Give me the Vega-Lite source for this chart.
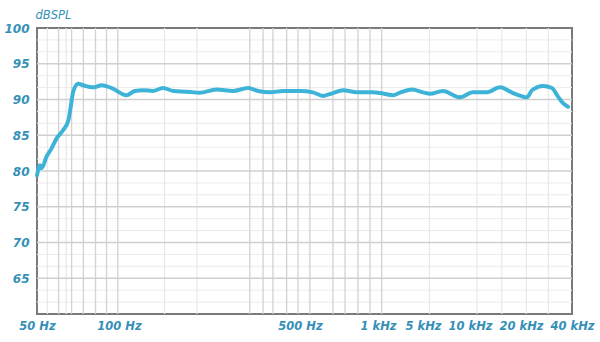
{
  "$schema": "https://vega.github.io/schema/vega-lite/v6.json",
  "width": 535,
  "height": 286,
  "autosize": {"type": "none"},
  "padding": {"left": 37, "top": 28, "right": 28, "bottom": 28},
  "background": "#ffffff",
  "config": {
    "view": {"stroke": "#7a7a7a", "strokeWidth": 2},
    "axis": {"labelFont": "DejaVu Sans", "labelFontStyle": "italic", "labelFontWeight": "bold", "labelColor": "#3590b8", "titleFont": "DejaVu Sans", "titleFontStyle": "italic", "titleColor": "#3590b8"}
  },
  "layer": [
    {
      "data": {"values": [
        {"db": 61.67}, {"db": 63.33}, {"db": 66.67}, {"db": 68.33}, {"db": 71.67}, {"db": 73.33},
        {"db": 76.67}, {"db": 78.33}, {"db": 81.67}, {"db": 83.33}, {"db": 86.67}, {"db": 88.33},
        {"db": 91.67}, {"db": 93.33}, {"db": 96.67}, {"db": 98.33}
      ]},
      "mark": {"type": "rule", "color": "#ececec", "strokeWidth": 1},
      "encoding": {"y": {"field": "db", "type": "quantitative"}}
    },
    {
      "data": {"values": [
        {"f": 54.6}, {"f": 64}, {"f": 150}, {"f": 200}, {"f": 5500}, {"f": 11000}, {"f": 15400}, {"f": 21500}, {"f": 29000}
      ]},
      "mark": {"type": "rule", "color": "#e8e8e8", "strokeWidth": 1.2},
      "encoding": {"x": {"field": "f", "type": "quantitative"}}
    },
    {
      "data": {"values": [
        {"f": 60}, {"f": 67}, {"f": 74}, {"f": 82}, {"f": 90}, {"f": 99}, {"f": 320}, {"f": 360}, {"f": 393}, {"f": 444}, {"f": 491},
        {"f": 546}, {"f": 670}, {"f": 746}, {"f": 837}, {"f": 931}, {"f": 1141}
      ]},
      "mark": {"type": "rule", "color": "#d2d2d2", "strokeWidth": 1.3},
      "encoding": {"x": {"field": "f", "type": "quantitative"}}
    },
    {
      "data": {"values": [
        {"db": 65}, {"db": 70}, {"db": 75}, {"db": 80}, {"db": 85}, {"db": 90}, {"db": 95}
      ]},
      "mark": {"type": "rule", "color": "#cfcfcf", "strokeWidth": 1.5},
      "encoding": {"y": {"field": "db", "type": "quantitative"}}
    },
    {
      "data": {"values": [
        {"f": 50, "db": 79.4}, {"f": 51.3, "db": 80.8}, {"f": 52.0, "db": 80.4}, {"f": 54.2, "db": 82.0},
        {"f": 56.6, "db": 83.2}, {"f": 59.1, "db": 84.6}, {"f": 62.3, "db": 85.7}, {"f": 65.2, "db": 87.1},
        {"f": 66.5, "db": 89.0}, {"f": 67.9, "db": 91.1}, {"f": 70.9, "db": 92.2}, {"f": 73.8, "db": 92.0},
        {"f": 80.3, "db": 91.7}, {"f": 86.4, "db": 92.0}, {"f": 94, "db": 91.6}, {"f": 107, "db": 90.6},
        {"f": 115, "db": 91.2},
        {"f": 124, "db": 91.3}, {"f": 135, "db": 91.2}, {"f": 148, "db": 91.6}, {"f": 162, "db": 91.2},
        {"f": 183, "db": 91.1}, {"f": 205, "db": 90.95}, {"f": 238, "db": 91.4}, {"f": 276, "db": 91.2},
        {"f": 315, "db": 91.6}, {"f": 344, "db": 91.2}, {"f": 383, "db": 91.0}, {"f": 430, "db": 91.2},
        {"f": 500, "db": 91.2}, {"f": 561, "db": 91.0}, {"f": 613, "db": 90.5}, {"f": 670, "db": 90.9},
        {"f": 733, "db": 91.3}, {"f": 830, "db": 91.0}, {"f": 956, "db": 91.0}, {"f": 1074, "db": 90.9},
        {"f": 1710, "db": 90.6}, {"f": 2196, "db": 90.95}, {"f": 3371, "db": 91.4}, {"f": 5000, "db": 91.0},
        {"f": 5545, "db": 90.8}, {"f": 6715, "db": 91.2}, {"f": 8635, "db": 90.3}, {"f": 10410, "db": 91.0},
        {"f": 12600, "db": 91.0}, {"f": 15030, "db": 91.7}, {"f": 17940, "db": 90.9}, {"f": 21700, "db": 90.3},
        {"f": 23220, "db": 91.3}, {"f": 26980, "db": 91.9}, {"f": 30480, "db": 91.6}, {"f": 33080, "db": 90.4},
        {"f": 35400, "db": 89.5}, {"f": 37890, "db": 89.0}
      ]},
      "mark": {"type": "line", "color": "#3db3d8", "strokeWidth": 4, "interpolate": "monotone", "strokeCap": "round"},
      "encoding": {
        "x": {
          "field": "f", "type": "quantitative",
          "scale": {"type": "log", "domain": [50, 100, 500, 1000, 5000, 10000, 20000, 40000], "range": [0, 82, 263, 341, 386, 433, 484, 535], "nice": false, "clamp": true},
          "axis": {
            "values": [50, 100, 500, 1000, 5000, 10000, 20000, 40000],
            "labelExpr": "datum.value >= 1000 ? format(datum.value / 1000, 'd') + ' kHz' : datum.value + ' Hz'",
            "grid": false, "ticks": false, "domain": false, "labelFontSize": 11.5, "labelPadding": 6, "labelOverlap": false, "title": null, "labelFlush": false
          }
        },
        "y": {
          "field": "db", "type": "quantitative",
          "scale": {"domain": [60, 100], "nice": false, "zero": false},
          "axis": {
            "values": [65, 70, 75, 80, 85, 90, 95, 100],
            "grid": false, "ticks": false, "domain": false, "labelFontSize": 12, "labelPadding": 8,
            "title": "dBSPL", "titleAngle": 0, "titleX": -2, "titleY": -10, "titleAlign": "left", "titleBaseline": "alphabetic", "titleFontSize": 11.5, "titleFontWeight": "normal"
          }
        }
      }
    }
  ]
}
